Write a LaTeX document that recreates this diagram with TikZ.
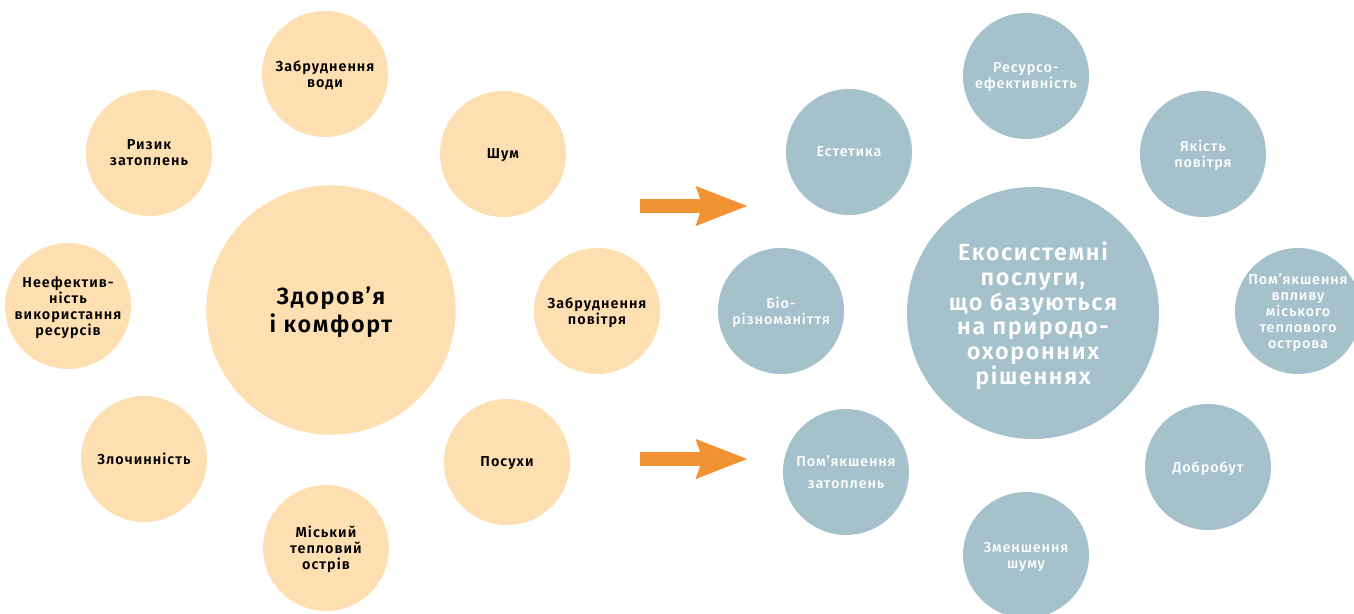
\documentclass[tikz,border=0pt]{standalone}
\usepackage{fontspec}
\setmainfont{Fira Sans}[BoldFont={Fira Sans SemiBold}]
\newfontfamily\boldwide{Fira Sans SemiBold}[LetterSpace=7]
\newfontfamily\mediumwide{Fira Sans Medium}[LetterSpace=6]
\usetikzlibrary{arrows.meta}

\definecolor{peach}{HTML}{FDDFB2}
\definecolor{steel}{HTML}{A4C1CC}
\definecolor{arroworange}{HTML}{F39233}

\begin{document}
\begin{tikzpicture}[x=0.75pt, y=-0.75pt,
    smallpeach/.style={circle, fill=peach, minimum size=94.5pt, inner sep=0pt, align=center,
        text depth=0pt, font=\boldwide\fontsize{10.8}{12}\selectfont, text=black},
    bigpeach/.style={circle, fill=peach, minimum size=187pt, inner sep=0pt, align=center,
        text depth=0pt, font=\boldwide\fontsize{17.5}{21}\selectfont, text=black},
    smallsteel/.style={circle, fill=steel, minimum size=94.5pt, inner sep=0pt, align=center,
        text depth=0pt, font=\mediumwide\fontsize{10.8}{12}\selectfont, text=white},
    bigsteel/.style={circle, fill=steel, minimum size=189pt, inner sep=0pt, align=center,
        text depth=0pt, font=\boldwide\fontsize{17.5}{18.5}\selectfont, text=white},
    fatarrow/.style={draw=arroworange, line width=10.5pt,
        -{Stealth[length=38pt, width=27.75pt, inset=4pt, fill=arroworange]}}]
        \useasboundingbox (0,0) rectangle (1354,614);

        %left nodes
        \node[bigpeach] (zdorovya) at (331,310) {Здоров’я\\і комфорт};
        \node[smallpeach] (voda) at (325,74) {Забруднення\\води};
        \node[smallpeach] (shum) at (503,154) {Шум};
        \node[smallpeach] (povitrya) at (597,311) {Забруднення\\повітря};
        \node[smallpeach] (posukhy) at (507,462) {Посухи};
        \node[smallpeach] (ostriv) at (326,548) {Міський\\тепловий\\острів};
        \node[smallpeach] (zlochyn) at (144,459) {Злочинність};
        \node[smallpeach] (resursy) at (68,306) {Неефектив-\\ність\\використання\\ресурсів};
        \node[smallpeach] (zatoplennya) at (149,153) {Ризик\\затоплень};

        %right nodes
        \node[bigsteel] (posluhy) at (1033,313) {Екосистемні\\послуги,\\що базуються\\на природо-\\охоронних\\рішеннях};
        \node[smallsteel] (efekt) at (1026,76) {Ресурсо-\\ефективність};
        \node[smallsteel] (yakist) at (1203,154) {Якість\\повітря};
        \node[smallsteel] (ostrivpom) at (1298,311) {Пом’якшення\\впливу\\міського\\теплового\\острова};
        \node[smallsteel] (dobrobut) at (1208,467) {Добробут};
        \node[smallsteel] (shumpom) at (1026,555) {Зменшення\\шуму};
        \node[smallsteel, font=\mediumwide\fontsize{10.8}{16.5}\selectfont] (zatoppom) at (846,472) {Пом’якшення\\затоплень};
        \node[smallsteel] (bio) at (781,311) {Біо-\\різноманіття};
        \node[smallsteel] (estetyka) at (849,152) {Естетика};

        %arrows
        \coordinate (s1) at (640,206);
        \coordinate (e1) at (748,206);
        \coordinate (s2) at (640,459);
        \coordinate (e2) at (748,459);
        \draw[fatarrow] (s1) -- (e1);
        \draw[fatarrow] (s2) -- (e2);
    \end{tikzpicture}
\end{document}
